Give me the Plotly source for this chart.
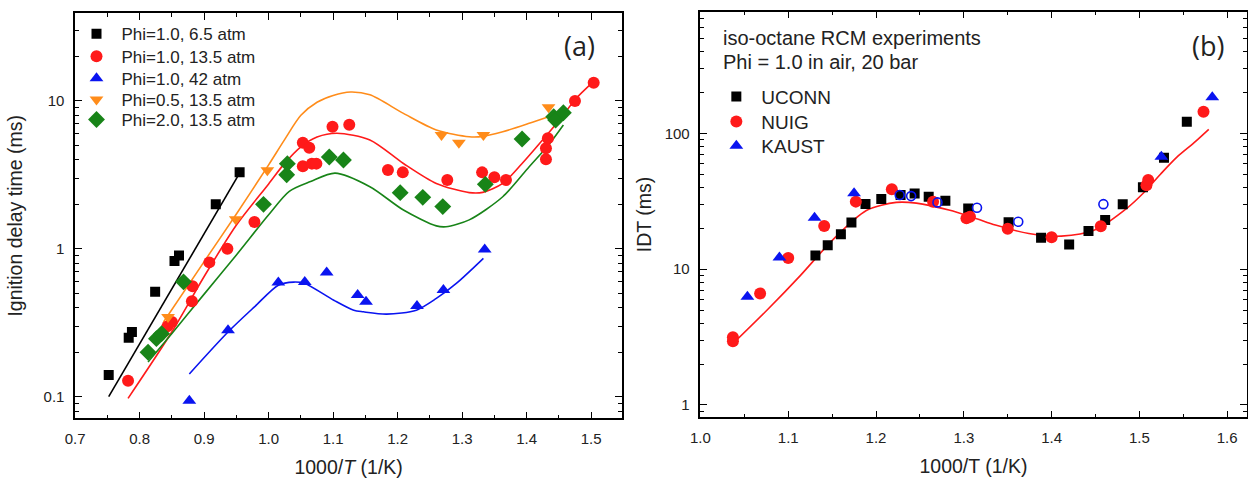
import plotly.graph_objects as go

# ---------------- Panel (a) data ----------------
a_black_x = [0.752, 0.783, 0.788, 0.824, 0.854, 0.861, 0.918, 0.955]
a_black_y = [0.140, 0.250, 0.274, 0.512, 0.826, 0.903, 2.00, 3.29]

a_red_x = [0.782, 0.843, 0.850, 0.881, 0.882, 0.908, 0.936, 0.978, 1.053, 1.063, 1.053, 1.067,
           1.074, 1.099, 1.125, 1.185, 1.208, 1.277, 1.331, 1.350, 1.368, 1.433, 1.430, 1.430,
           1.475, 1.504]
a_red_y = [0.128, 0.299, 0.320, 0.442, 0.559, 0.810, 1.00, 1.52, 5.21, 4.82, 3.62, 3.77,
           3.77, 6.69, 6.90, 3.41, 3.29, 2.92, 3.29, 3.05, 2.92, 5.59, 4.79, 4.03,
           10.0, 13.3]

a_blue_x = [0.877, 0.937, 1.015, 1.056, 1.090, 1.138, 1.151, 1.230, 1.271, 1.335]
a_blue_y = [0.094, 0.281, 0.592, 0.596, 0.692, 0.487, 0.439, 0.410, 0.526, 0.990]

a_orange_x = [0.844, 0.949, 0.998, 1.268, 1.295, 1.333, 1.434]
a_orange_y = [0.346, 1.585, 3.40, 5.89, 5.22, 5.89, 9.06]

a_green_x = [0.813, 0.826, 0.834, 0.868, 0.992, 1.028, 1.029, 1.094, 1.116, 1.204, 1.239,
             1.270, 1.336, 1.393, 1.442, 1.445, 1.457]
a_green_y = [0.200, 0.247, 0.267, 0.598, 2.00, 3.17, 3.77, 4.18, 3.99, 2.40, 2.23,
             1.93, 2.73, 5.53, 7.83, 7.44, 8.33]

# model curves (a)
m_black_x = [0.752, 0.952]
m_black_y = [0.100, 3.09]

m_red_x = [0.782, 0.85, 0.90, 0.95, 1.0, 1.025, 1.05, 1.075, 1.106, 1.157, 1.209, 1.26,
           1.311, 1.332, 1.363, 1.393, 1.429, 1.455, 1.475, 1.5036]
m_red_y = [0.0975, 0.275, 0.65, 1.45, 2.75, 3.8, 4.9, 5.7, 6.05, 5.45, 3.78, 2.77,
           2.40, 2.41, 2.77, 3.78, 5.73, 7.83, 10.2, 13.5]

m_blue_x = [0.877, 0.937, 0.978, 1.015, 1.039, 1.056, 1.101, 1.132, 1.147, 1.183, 1.229,
            1.26, 1.291, 1.333]
m_blue_y = [0.1426, 0.274, 0.405, 0.568, 0.596, 0.583, 0.449, 0.384, 0.375, 0.362, 0.385,
            0.462, 0.584, 0.863]

m_orange_x = [0.837, 0.90, 0.95, 1.0, 1.025, 1.05, 1.075, 1.1, 1.127, 1.157, 1.209, 1.26,
              1.311, 1.332, 1.363, 1.404, 1.434]
m_orange_y = [0.32, 0.82, 1.72, 3.7, 5.5, 8.0, 9.8, 10.9, 11.5, 11.0, 8.25, 6.37,
              5.73, 5.76, 6.19, 7.06, 7.83]

m_green_x = [0.813, 0.85, 0.90, 0.95, 1.0, 1.032, 1.065, 1.103, 1.157, 1.209, 1.26, 1.275,
             1.311, 1.363, 1.404, 1.434, 1.457]
m_green_y = [0.172, 0.268, 0.494, 0.91, 1.70, 2.45, 2.85, 3.25, 2.63, 1.83, 1.43, 1.41,
             1.57, 2.25, 3.59, 5.04, 6.88]

# ---------------- Panel (b) data ----------------
b_uconn_x = [1.131, 1.145, 1.160, 1.172, 1.188, 1.206, 1.228, 1.244, 1.260, 1.279, 1.305,
             1.351, 1.388, 1.420, 1.442, 1.461, 1.481, 1.504, 1.528, 1.554]
b_uconn_y = [12.6, 15.0, 18.1, 22.0, 30.2, 32.8, 35.1, 36.1, 34.1, 31.9, 28.0,
             22.1, 17.0, 15.2, 19.1, 23.0, 30.1, 40.0, 66.1, 121.8]

b_nuig_x = [1.037, 1.037, 1.068, 1.100, 1.141, 1.177, 1.218, 1.265, 1.303, 1.307, 1.350,
            1.400, 1.456, 1.508, 1.510, 1.573]
b_nuig_y = [3.15, 2.95, 6.63, 12.1, 20.8, 31.4, 38.7, 31.3, 23.7, 24.3, 19.8,
            17.2, 20.7, 41.5, 45.3, 144]

b_kaust_x = [1.0535, 1.090, 1.130, 1.175, 1.525, 1.583]
b_kaust_y = [6.26, 12.2, 23.9, 36.2, 67.3, 184]

b_open_x = [1.227, 1.240, 1.270, 1.315, 1.362, 1.459]
b_open_y = [35.1, 34.5, 31.0, 28.3, 22.3, 30.1]

m_b_x = [1.038, 1.076, 1.114, 1.151, 1.189, 1.223, 1.246, 1.283, 1.313, 1.336, 1.374,
         1.411, 1.449, 1.487, 1.504, 1.524, 1.543, 1.562, 1.579]
m_b_y = [2.87, 5.0, 9.0, 16.5, 27.0, 31.0, 30.6, 27.2, 23.7, 21.1, 18.3,
         17.5, 19.4, 28.5, 36.0, 50.0, 67.0, 85.0, 107.0]

# axis tick values
a_xticks = [0.7, 0.8, 0.9, 1.0, 1.1, 1.2, 1.3, 1.4, 1.5]
a_yticks = [0.1, 1, 10]
b_xticks = [1.0, 1.1, 1.2, 1.3, 1.4, 1.5, 1.6]
b_yticks = [1, 10, 100]

# ---------------- styling ----------------
W, H = 1248, 478
FONT = "Liberation Sans, Arial, sans-serif"
BLACK = "#000000"
RED = "#FF1A1A"
BLUE = "#0A14F0"
ORANGE = "#FF8C1A"
GREEN = "#188418"

fig = go.Figure()


def line(x, y, color, xa, ya):
    fig.add_trace(go.Scatter(x=x, y=y, mode="lines", xaxis=xa, yaxis=ya,
                             line=dict(color=color, width=1.6, shape="spline", smoothing=0.8),
                             showlegend=False, hoverinfo="skip"))


def pts(x, y, name, color, symbol, size, xa, ya, legend, show=True, open_=False):
    if open_:
        marker = dict(symbol=symbol, size=size, color="rgba(0,0,0,0)",
                      line=dict(color=color, width=1.6))
    else:
        marker = dict(symbol=symbol, size=size, color=color, line=dict(width=0))
    fig.add_trace(go.Scatter(x=x, y=y, mode="markers", name=name, xaxis=xa, yaxis=ya,
                             marker=marker, legend=legend, showlegend=show))


# panel (a) lines
line(m_black_x, m_black_y, BLACK, "x", "y")
line(m_orange_x, m_orange_y, ORANGE, "x", "y")
line(m_red_x, m_red_y, RED, "x", "y")
line(m_green_x, m_green_y, GREEN, "x", "y")
line(m_blue_x, m_blue_y, BLUE, "x", "y")

# panel (a) points (one legend per entry for exact row spacing)
pts(a_black_x, a_black_y, "Phi=1.0, 6.5 atm", BLACK, "square", 10, "x", "y", "legend")
pts(a_red_x, a_red_y, "Phi=1.0, 13.5 atm", RED, "circle", 12, "x", "y", "legend2")
pts(a_blue_x, a_blue_y, "Phi=1.0, 42 atm", BLUE, "triangle-up", 12, "x", "y", "legend3")
pts(a_orange_x, a_orange_y, "Phi=0.5, 13.5 atm", ORANGE, "triangle-down", 12, "x", "y", "legend4")
pts(a_green_x, a_green_y, "Phi=2.0, 13.5 atm", GREEN, "diamond", 13, "x", "y", "legend5")

# panel (b)
line(m_b_x, m_b_y, RED, "x2", "y2")
pts(b_uconn_x, b_uconn_y, "UCONN", BLACK, "square", 10, "x2", "y2", "legend6")
pts(b_nuig_x, b_nuig_y, "NUIG", RED, "circle", 12, "x2", "y2", "legend7")
pts(b_kaust_x, b_kaust_y, "KAUST", BLUE, "triangle-up", 12, "x2", "y2", "legend8")
pts(b_open_x, b_open_y, "KAUST (open)", BLUE, "circle", 9, "x2", "y2", "legend8",
    show=False, open_=True)


def px_x(p):
    return p / W


def px_y(p):
    return 1 - p / H


def log_minor(lo_exp, hi_exp):
    return [k * 10.0 ** e for e in range(lo_exp, hi_exp + 1) for k in range(2, 10)]


common_axis = dict(showline=True, linecolor="black", linewidth=1.5, mirror="allticks",
                   ticks="inside", ticklen=7, tickwidth=1.3, tickcolor="black",
                   showgrid=False, zeroline=False,
                   tickfont=dict(family=FONT, size=15, color="#222"))
minor_lin = dict(ticks="inside", ticklen=4, tickwidth=1.2, tickcolor="black", dtick=0.05)


def minor_log(lo, hi):
    return dict(ticks="inside", ticklen=4, tickwidth=1.2, tickcolor="black",
                tickmode="array", tickvals=log_minor(lo, hi))


def leg(x, ytop, size):
    return dict(x=px_x(x), y=px_y(ytop), xanchor="left", yanchor="top",
                bgcolor="rgba(0,0,0,0)", font=dict(family=FONT, size=size, color="#222"),
                itemwidth=40, tracegroupgap=0)


LA_X = 62
LB_X = 707
legends = {}
for i, row in enumerate([33.3, 55.7, 77.7, 99.0, 119.0]):
    key = "legend" if i == 0 else f"legend{i + 1}"
    legends[key] = leg(LA_X, row - 17, 17)
for j, row in enumerate([95.7, 120.7, 145.0]):
    legends[f"legend{j + 6}"] = leg(LB_X, row - 18, 19)

fig.update_layout(
    width=W, height=H, autosize=False,
    margin=dict(l=0, r=0, t=0, b=0),
    paper_bgcolor="white", plot_bgcolor="white",
    font=dict(family=FONT, color="#222"),
    xaxis=dict(domain=[px_x(65.7), px_x(617)], range=[0.7, 1.548], anchor="y",
               tickvals=a_xticks, ticktext=[f"{v:.1f}" for v in a_xticks],
               minor=minor_lin,
               title=dict(text="1000/<i>T</i> (1/K)", font=dict(family=FONT, size=19.5), standoff=14),
               ticklabelstandoff=6, **common_axis),
    yaxis=dict(domain=[px_y(418.3), px_y(13.3)], type="log", range=[-1.146, 1.593], anchor="x",
               tickvals=a_yticks, ticktext=["0.1", "1", "10"],
               minor=minor_log(-2, 1),
               title=dict(text="Ignition delay time (ms)", font=dict(family=FONT, size=19.5), standoff=16),
               ticklabelstandoff=6, **common_axis),
    xaxis2=dict(domain=[px_x(696), px_x(1246.5)], range=[1.0, 1.622], anchor="y2",
                tickvals=b_xticks, ticktext=[f"{v:.1f}" for v in b_xticks],
                minor=minor_lin,
                title=dict(text="1000/T (1/K)", font=dict(family=FONT, size=19.5), standoff=14),
                ticklabelstandoff=6, **common_axis),
    yaxis2=dict(domain=[px_y(417.3), px_y(11.7)], type="log", range=[-0.0906, 2.895], anchor="x2",
                tickvals=b_yticks, ticktext=["1", "10", "100"],
                minor=minor_log(-1, 2),
                title=dict(text="IDT (ms)", font=dict(family=FONT, size=19.5), standoff=8),
                ticklabelstandoff=6, **common_axis),
    annotations=[
        dict(text="(a)", x=px_x(574), y=px_y(45), xref="paper", yref="paper",
             showarrow=False, xanchor="center", yanchor="middle",
             font=dict(family="Open Sans, Liberation Sans, sans-serif", size=27, color="#222")),
        dict(text="(b)", x=px_x(1208), y=px_y(45), xref="paper", yref="paper",
             showarrow=False, xanchor="center", yanchor="middle",
             font=dict(family="Open Sans, Liberation Sans, sans-serif", size=27, color="#222")),
        dict(text="iso-octane RCM experiments", x=px_x(717), y=px_y(38.3), xref="paper",
             yref="paper", showarrow=False, xanchor="left", yanchor="middle",
             font=dict(family=FONT, size=20, color="#222")),
        dict(text="Phi = 1.0 in air, 20 bar", x=px_x(717), y=px_y(62), xref="paper",
             yref="paper", showarrow=False, xanchor="left", yanchor="middle",
             font=dict(family=FONT, size=20, color="#222")),
    ],
    **legends,
)

fig.write_html(
    "out.html",
    config={"displayModeBar": False},
    post_script="document.body.style.margin='0px';document.body.style.overflow='hidden';",
)
